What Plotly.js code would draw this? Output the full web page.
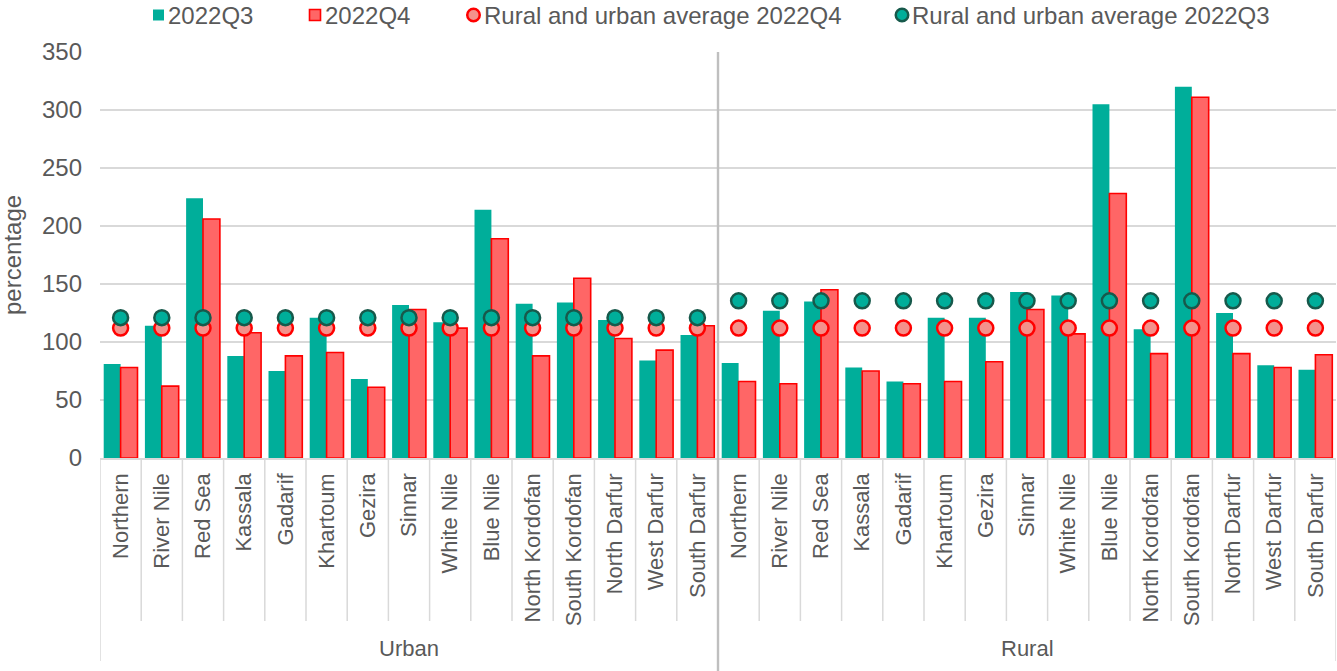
<!DOCTYPE html>
<html>
<head>
<meta charset="utf-8">
<script src="https://cdn.plot.ly/plotly-3.0.1.min.js"></script>
<style>html,body{margin:0;padding:0;background:#fff;}#chart{width:1337px;height:671px;}</style>
</head>
<body>
<div id="chart"></div>
<script>
// ---- data ----
const states = ["Northern","River Nile","Red Sea","Kassala","Gadarif","Khartoum","Gezira","Sinnar","White Nile","Blue Nile","North Kordofan","South Kordofan","North Darfur","West Darfur","South Darfur"];
const groups = ["Urban","Rural"];
const q3Urban = [81, 114, 224, 88, 75, 121, 68, 132, 117, 214, 133, 134, 119, 84, 106];
const q4Urban = [78, 62, 206, 108, 88, 91, 61, 128, 112, 189, 88, 155, 103, 93, 114];
const q3Rural = [82, 127, 135, 78, 66, 121, 121, 143, 140, 305, 111, 320, 125, 80, 76];
const q4Rural = [66, 64, 145, 75, 64, 66, 83, 128, 107, 228, 90, 311, 90, 78, 89];
const avgQ3Urban = [121,121,121,121,121,121,121,121,121,121,121,121,121,121,121];
const avgQ3Rural = [135.5,135.5,135.5,135.5,135.5,135.5,135.5,135.5,135.5,135.5,135.5,135.5,135.5,135.5,135.5];
const avgQ4Urban = [112,112,112,112,112,112,112,112,112,112,112,112,112,112,112];
const avgQ4Rural = [112,112,112,112,112,112,112,112,112,112,112,112,112,112,112];
const seriesNames = ["2022Q3","2022Q4","Rural and urban average 2022Q4","Rural and urban average 2022Q3"];
const yTicks = [0,50,100,150,200,250,300,350];

// ---- build ----
const labels = states.concat(states);
const xs = labels.map((_, i) => i);
const q3 = q3Urban.concat(q3Rural);
const q4 = q4Urban.concat(q4Rural);
const aQ3 = avgQ3Urban.concat(avgQ3Rural);
const aQ4 = avgQ4Urban.concat(avgQ4Rural);

const TEAL = '#00AE9A', RED = '#FF0000', REDFILL = '#FF6666', PINK = '#F4918B', DARKG = '#17594B';
const TXT = '#595959', GRID = '#D9D9D9';
const FONT = 'Liberation Sans, Arial, sans-serif';

const traces = [
  {type:'bar', name:seriesNames[0], x:xs, y:q3, marker:{color:TEAL, line:{width:0}}, showlegend:false},
  {type:'bar', name:seriesNames[1], x:xs, y:q4, marker:{color:REDFILL, line:{color:RED, width:1.6}}, showlegend:false},
  {type:'scatter', mode:'markers', name:seriesNames[2], x:xs, y:aQ4, marker:{symbol:'circle', size:15, color:PINK, line:{color:RED, width:2.5}}, showlegend:false},
  {type:'scatter', mode:'markers', name:seriesNames[3], x:xs, y:aQ3, marker:{symbol:'circle', size:15, color:TEAL, line:{color:DARKG, width:2.5}}, showlegend:false}
];

// layout geometry helpers (pixel -> paper)
const W = 1337, H = 671, ML = 100, MR = 1, MT = 52, MB = 213;
const PW = W - ML - MR, PH = H - MT - MB;
const py = p => (H - MB - p) / PH;
const pxp = p => (p - ML) / PW;

const shapes = [];
const n = labels.length;
for (let k = 0; k <= n; k++) {
  const xb = k - 0.5;
  if (k === 15) {
    shapes.push({type:'line', xref:'x', yref:'paper', x0:xb, x1:xb, y0:1, y1:py(671), line:{color:'#BFBFBF', width:2.4}, layer:'above'});
  } else if (k === 0 || k === n) {
    shapes.push({type:'line', xref:'x', yref:'paper', x0:xb, x1:xb, y0:0, y1:py(661), line:{color:GRID, width:1.5}});
  } else {
    shapes.push({type:'line', xref:'x', yref:'paper', x0:xb, x1:xb, y0:0, y1:py(621), line:{color:GRID, width:1.5}});
  }
}

// legend (manual)
const legY = py(15);
const legItems = [
  {sym:'square', x:158.5, fill:TEAL, line:TEAL, lw:0, tx:166, text:seriesNames[0]},
  {sym:'square', x:315, fill:REDFILL, line:RED, lw:1.6, tx:323, text:seriesNames[1]},
  {sym:'circle', x:473.5, fill:PINK, line:RED, lw:2.5, tx:482, text:seriesNames[2]},
  {sym:'circle', x:902, fill:TEAL, line:DARKG, lw:2.5, tx:910, text:seriesNames[3]}
];
const annotations = [];
legItems.forEach(it => {
  const s = it.sym === 'square' ? 11 : 12.5;
  shapes.push({type: it.sym === 'square' ? 'rect' : 'circle', xref:'paper', yref:'paper',
    xsizemode:'pixel', ysizemode:'pixel', xanchor:pxp(it.x), yanchor:legY,
    x0:-s/2, x1:s/2, y0:-s/2, y1:s/2,
    fillcolor:it.fill, line:{color:it.line, width:it.lw}});
  annotations.push({xref:'paper', yref:'paper', x:pxp(it.tx), y:legY, xanchor:'left', yanchor:'middle',
    text:it.text, showarrow:false, font:{family:FONT, size:24, color:TXT}});
});

// group labels
groups.forEach((g, gi) => {
  annotations.push({xref:'x', yref:'paper', x:gi*15 + 7, y:py(648), xanchor:'center', yanchor:'middle',
    text:g, showarrow:false, font:{family:FONT, size:22, color:TXT}});
});
// y axis title
annotations.push({xref:'paper', yref:'paper', x:pxp(12), y:0.5, xanchor:'center', yanchor:'middle',
  text:'percentage', textangle:-90, showarrow:false, font:{family:FONT, size:24, color:TXT}});

const layout = {
  width:W, height:H, autosize:false,
  margin:{l:ML, r:MR, t:MT, b:MB, pad:0},
  paper_bgcolor:'#fff', plot_bgcolor:'#fff',
  barmode:'group', bargap:0.18, bargroupgap:0,
  showlegend:false,
  font:{family:FONT, color:TXT},
  xaxis:{range:[-0.5, n-0.5], tickmode:'array', tickvals:xs, ticktext:labels, tickangle:-90,
    showgrid:false, zeroline:false, showline:true, linecolor:GRID, linewidth:1.5, ticks:'',
    ticklabelstandoff:5, tickfont:{family:FONT, size:22, color:TXT}, automargin:false, fixedrange:true},
  yaxis:{range:[0,350], tickmode:'array', tickvals:yTicks, showgrid:true, gridcolor:GRID, gridwidth:1.5,
    zeroline:false, showline:false, ticks:'', ticklabelstandoff:17,
    tickfont:{family:FONT, size:24, color:TXT}, automargin:false, fixedrange:true},
  shapes:shapes, annotations:annotations
};

Plotly.newPlot('chart', traces, layout, {displayModeBar:false, staticPlot:true});
</script>
</body>
</html>
